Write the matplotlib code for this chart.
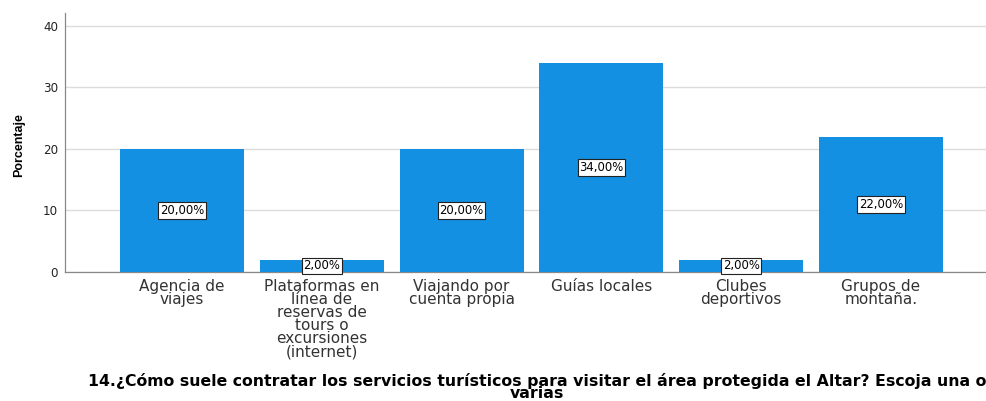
import matplotlib.pyplot as plt
from matplotlib import font_manager

plt.rcParams['font.family'] = ['DejaVu Sans']

categorias = ["Agencia de\nviajes",
              "Plataformas en\nlínea de\nreservas de\ntours o\nexcursiones\n(internet)",
              "Viajando por\ncuenta propia",
              "Guías locales",
              "Clubes\ndeportivos",
              "Grupos de\nmontaña."]
porcentajes = [20.0, 2.0, 20.0, 34.0, 2.0, 22.0]
yticks = [0, 10, 20, 30, 40]
titulo = ("14.¿Cómo suele contratar los servicios turísticos para visitar el área protegida el Altar? Escoja una o\n"
          "varias")

# fuente estrecha para el rótulo del eje y, si existe
nombres = {f.name for f in font_manager.fontManager.ttflist}
if 'Liberation Sans Narrow' in nombres:
    fam_y, tam_y = 'Liberation Sans Narrow', 11
else:
    fam_y, tam_y = 'Liberation Sans', 9

fig = plt.figure(figsize=(9.87, 4.01), dpi=100)
ax = fig.add_axes([65 / 987, 1 - 272 / 401, (998 - 65) / 987, (272 - 13) / 401])

x = list(range(len(categorias)))
ax.bar(x, porcentajes, width=0.886, color='#1490e2', zorder=3)

# etiquetas de valor en el centro de cada barra
for xi, v in zip(x, porcentajes):
    ax.text(xi, v / 2, f"{v:.2f}%".replace('.', ','), ha='center', va='center',
            fontsize=8.4, color='black', zorder=4,
            bbox=dict(boxstyle='square,pad=0.15', fc='white', ec='#222222', lw=0.8))

ax.set_xlim(-0.837, 5.837)
ax.set_ylim(0, 42.1)
ax.set_yticks(yticks)
ax.set_xticks(x)
ax.set_xticklabels(categorias, fontsize=11, color='#333333', linespacing=0.84)
ax.tick_params(axis='y', length=0, labelsize=8.6, colors='#222222', pad=5)
ax.tick_params(axis='x', length=0, pad=5)
ax.grid(axis='y', color='#dcdcdc', lw=1, zorder=0)

for s in ['top', 'right']:
    ax.spines[s].set_visible(False)
for s in ['left', 'bottom']:
    ax.spines[s].set_color('#888888')
    ax.spines[s].set_linewidth(0.9)

fig.text(19 / 987, 1 - 145 / 401, "Porcentaje", rotation=90, ha='center', va='center',
         fontsize=tam_y, family=fam_y, fontweight='bold', color='black')
fig.text(537 / 987, 1 - 387 / 401, titulo, ha='center', va='center',
         fontsize=11.3, fontweight='bold', color='black', linespacing=0.8)

fig.savefig('out.png', dpi=100)
